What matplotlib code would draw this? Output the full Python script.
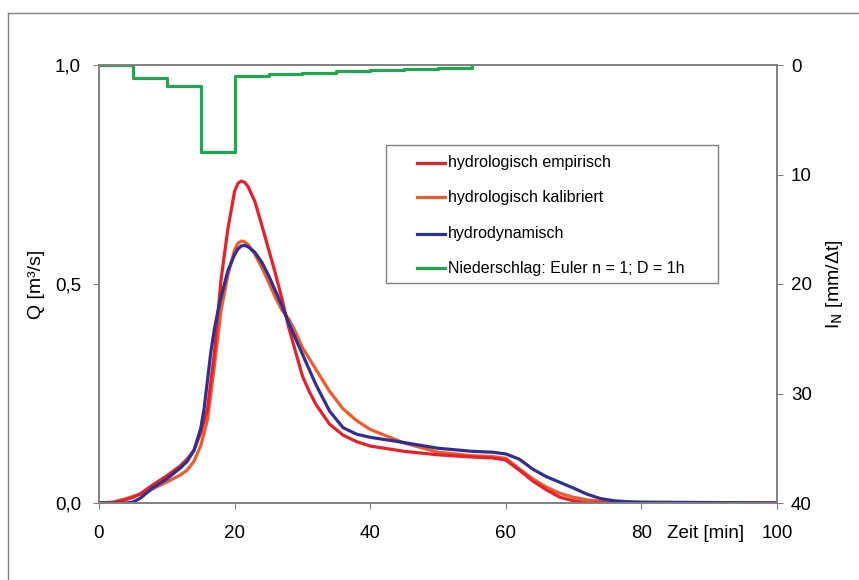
import matplotlib
matplotlib.use('Agg')
import matplotlib.pyplot as plt
from matplotlib.lines import Line2D
from matplotlib.patches import Rectangle

plt.rcParams['font.family'] = ['Liberation Sans', 'DejaVu Sans']

# Abfluss-Ganglinien (Zeit in min, Q in m3/s)
t_emp = [0, 2, 4, 5, 6, 8, 10, 12, 13, 14, 15, 16, 17, 18, 19, 20, 20.5, 21, 21.5, 22, 23, 24, 25,
         26, 27, 28, 29, 30, 31, 32, 34, 36, 38, 40, 45, 50, 55, 58, 60, 62, 64, 66, 68, 70, 72,
         80, 100]
q_emp = [0.0, 0.0, 0.008, 0.013, 0.02, 0.042, 0.062, 0.085, 0.10, 0.12, 0.16, 0.215, 0.34, 0.51,
         0.625, 0.712, 0.73, 0.735, 0.732, 0.722, 0.688, 0.635, 0.58, 0.525, 0.465, 0.40, 0.345,
         0.29, 0.255, 0.225, 0.18, 0.155, 0.14, 0.13, 0.118, 0.11, 0.105, 0.103, 0.098, 0.075,
         0.05, 0.03, 0.013, 0.005, 0.0, 0.0, 0.0]

t_kal = [0, 2, 4, 6, 8, 10, 12, 13, 14, 15, 16, 17, 18, 19, 20, 20.5, 21, 21.5, 22, 23, 24, 25,
         26, 27, 28, 29, 30, 32, 34, 36, 38, 40, 45, 50, 55, 58, 60, 62, 64, 66, 68, 70, 72, 74,
         76, 80, 100]
q_kal = [0.0, 0.002, 0.01, 0.02, 0.033, 0.048, 0.064, 0.075, 0.095, 0.13, 0.19, 0.31, 0.44, 0.52,
         0.578, 0.593, 0.598, 0.596, 0.59, 0.568, 0.538, 0.505, 0.47, 0.44, 0.42, 0.39, 0.355,
         0.305, 0.255, 0.215, 0.188, 0.168, 0.137, 0.116, 0.108, 0.106, 0.102, 0.078, 0.055,
         0.036, 0.022, 0.013, 0.007, 0.004, 0.001, 0.0, 0.0]

t_dyn = [0, 4, 5, 6, 8, 10, 12, 13, 14, 15, 15.5, 16, 16.5, 17, 17.5, 18, 19, 20, 20.5, 21, 21.5,
         22, 23, 24, 25, 26, 27, 28, 29, 30, 31, 32, 33, 34, 36, 38, 40, 45, 50, 55, 58, 60, 62,
         64, 66, 68, 70, 72, 74, 76, 78, 80, 90, 100]
q_dyn = [0.0, 0.0, 0.002, 0.01, 0.035, 0.055, 0.08, 0.095, 0.12, 0.17, 0.215, 0.28, 0.345, 0.395,
         0.435, 0.47, 0.53, 0.567, 0.58, 0.587, 0.588, 0.585, 0.572, 0.55, 0.52, 0.485, 0.45,
         0.41, 0.375, 0.34, 0.305, 0.27, 0.24, 0.21, 0.172, 0.157, 0.15, 0.138, 0.125, 0.118,
         0.116, 0.112, 0.10, 0.077, 0.06, 0.047, 0.034, 0.02, 0.01, 0.005, 0.003, 0.002, 0.001,
         0.0]

# Niederschlag (Blockregen, mm/dt)
t_n = [0, 5, 10, 15, 20, 25, 30, 35, 40, 45, 50, 55]
i_n = [0, 1.2, 1.9, 7.9, 1.0, 0.8, 0.7, 0.58, 0.46, 0.37, 0.3, 0]

x_ticks = [0, 20, 40, 60, 80, 100]
y_ticks = [0.0, 0.5, 1.0]
y_labels = ['0,0', '0,5', '1,0']
y2_ticks = [0, 10, 20, 30, 40]

labels = ['hydrologisch empirisch', 'hydrologisch kalibriert', 'hydrodynamisch',
          'Niederschlag: Euler n = 1; D = 1h']
farben = ['#e8202a', '#f15a2b', '#2e3192', '#1fa84f']

grau = '#808080'

fig = plt.figure(figsize=(8.59, 5.80), dpi=100)
ax = fig.add_axes([99 / 859, 77 / 580, 678 / 859, 438 / 580])
ax2 = ax.twinx()

# Rahmen um die Grafik
fig.add_artist(Line2D([8 / 859, 8 / 859], [0, 1 - 13 / 580], color=grau, lw=1.0))
fig.add_artist(Line2D([8 / 859, 1], [1 - 13 / 580, 1 - 13 / 580], color=grau, lw=1.0))

ax.plot(t_kal, q_kal, color=farben[1], lw=2.3, solid_joinstyle='round')
ax.plot(t_emp, q_emp, color=farben[0], lw=2.3, solid_joinstyle='round')
ax.plot(t_dyn, q_dyn, color=farben[2], lw=2.3, solid_joinstyle='round')
ax2.plot(t_n, i_n, color=farben[3], lw=2.3, drawstyle='steps-post')

ax.set_xlim(0, 100)
ax.set_ylim(0, 1)
ax2.set_ylim(40, 0)

ax.set_xticks(x_ticks)
ax.set_xticklabels([str(v) for v in x_ticks])
ax.set_yticks(y_ticks)
ax.set_yticklabels(y_labels)
ax2.set_yticks(y2_ticks)

for a in (ax, ax2):
    for s in a.spines.values():
        s.set_color(grau)
        s.set_linewidth(1.2)

ax.tick_params(axis='x', length=4, color=grau, labelsize=13.5, pad=12)
ax.tick_params(axis='y', length=4, color=grau, labelsize=13.5, pad=9)
ax2.tick_params(axis='y', length=4, color=grau, labelsize=13.5, pad=6)

ax.set_ylabel('Q [m³/s]', fontsize=14, labelpad=7)
ax2.set_ylabel(r'I$_\mathrm{N}$ [mm/Δt]', fontsize=14, labelpad=9)

ax.annotate('Zeit [min]', xy=(89.5, 0), xycoords=('data', 'axes fraction'),
            xytext=(0, -16), textcoords='offset points', ha='center', va='top', fontsize=13.5)

# Legende (Kasten mit Abstand wie in der Vorlage)
ax2.add_patch(Rectangle((0.4233, 0.5023), 0.4897, 0.3151, transform=ax.transAxes,
                        facecolor='white', edgecolor=grau, lw=1.0, zorder=5))
zeilen_y = [0.7763, 0.6986, 0.6142, 0.5365]
for yy, farbe, txt in zip(zeilen_y, farben, labels):
    ax2.add_line(Line2D([0.469, 0.5103], [yy, yy], transform=ax.transAxes,
                        color=farbe, lw=2.3, zorder=6))
    ax2.text(0.5147, yy, txt, transform=ax.transAxes, va='center', ha='left',
             fontsize=11.5, zorder=6)

fig.savefig('out.png', dpi=100)
